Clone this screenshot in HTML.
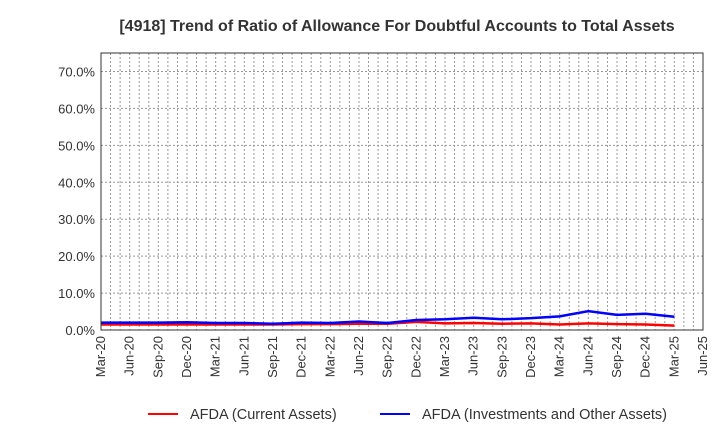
<!DOCTYPE html>
<html><head><meta charset="utf-8"><style>
body{margin:0;background:#fff;font-family:"Liberation Sans",Arial,sans-serif}
</style></head><body>
<svg width="720" height="440" id="c" xmlns="http://www.w3.org/2000/svg">
<text x="397" y="31" text-anchor="middle" font-size="16" font-weight="bold" fill="#333">[4918]  Trend of Ratio of Allowance For Doubtful Accounts to Total Assets</text>
<g id="grid"></g><g id="lines"></g><g id="axes"></g>
<g>
<line x1="148" y1="414" x2="178" y2="414" stroke="#f00" stroke-width="2"/>
<text x="190" y="419" font-size="14.5" fill="#333">AFDA (Current Assets)</text>
<line x1="380" y1="414" x2="410" y2="414" stroke="#00f" stroke-width="2"/>
<text x="422" y="419" font-size="14.5" fill="#333">AFDA (Investments and Other Assets)</text>
</g>
</svg>
<script>
const xLabels=["Mar-20","Jun-20","Sep-20","Dec-20","Mar-21","Jun-21","Sep-21","Dec-21","Mar-22","Jun-22","Sep-22","Dec-22","Mar-23","Jun-23","Sep-23","Dec-23","Mar-24","Jun-24","Sep-24","Dec-24","Mar-25","Jun-25"];
const yTicks=[0,10,20,30,40,50,60,70];
const current=[1.5,1.5,1.5,1.5,1.5,1.5,1.5,1.6,1.6,1.7,1.7,2.2,1.8,1.9,1.7,1.8,1.5,1.8,1.6,1.5,1.2];
const invest=[2.0,2.0,2.0,2.1,1.9,1.9,1.7,2.0,1.9,2.3,1.9,2.7,2.9,3.3,2.9,3.2,3.7,5.1,4.1,4.4,3.6];
const X0=101,X1=703,Y0=330,Y1=53,YMAX=75;
const sx=i=>X0+(X1-X0)*i/(xLabels.length-1);
const sy=v=>Y0-(Y0-Y1)*v/YMAX;
const ns="http://www.w3.org/2000/svg";
function mk(t,a,p){const e=document.createElementNS(ns,t);for(const k in a)e.setAttribute(k,a[k]);p.appendChild(e);return e;}
const g=document.getElementById('grid'),ax=document.getElementById('axes'),ln=document.getElementById('lines');
for(let m=1;m<(xLabels.length-1)*3;m++){const x=X0+(X1-X0)*m/((xLabels.length-1)*3);
const l=mk('line',{x1:x,x2:x,y1:Y1,y2:Y0,stroke:'#999','stroke-dasharray':'2,2','stroke-width':1},g);

}
yTicks.forEach(v=>{if(v>0){const l=mk('line',{x1:X0,x2:X1,y1:sy(v),y2:sy(v),stroke:'#999','stroke-dasharray':'2,2'},g);

}
const t=mk('text',{x:X0-6,y:sy(v)+5,'text-anchor':'end','font-size':13,fill:'#333'},ax);t.textContent=v.toFixed(1)+'%';

});
const r=mk('rect',{x:X0,y:Y1,width:X1-X0,height:Y0-Y1,fill:'none',stroke:'#333','stroke-width':1},ax);


xLabels.forEach((s,i)=>{const x=sx(i);const t=mk('text',{x:x+4,y:Y0+6,'text-anchor':'end','font-size':13,fill:'#333',transform:`rotate(-90 ${x+4} ${Y0+6})`},ax);t.textContent=s;

});
function series(d,c,n){const p=mk('polyline',{points:d.map((v,i)=>sx(i)+','+sy(v)).join(' '),fill:'none',stroke:c,'stroke-width':2.5},ln);

}
series(current,'#f00','line-current-assets');
series(invest,'#00f','line-investments');
</script>
</body></html>
